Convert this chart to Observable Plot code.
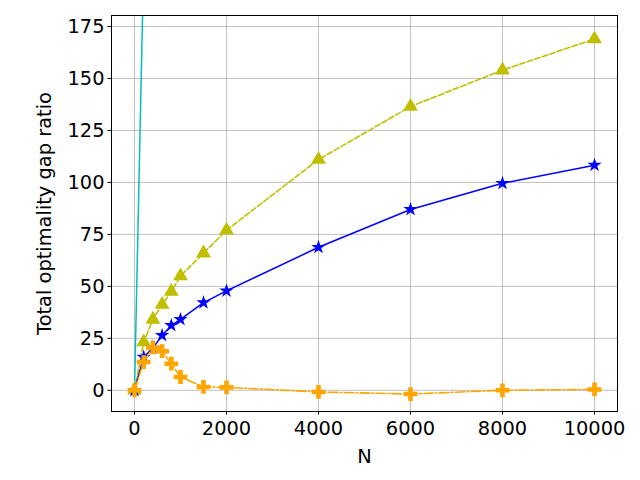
<!DOCTYPE html>
<html>
<head>
<meta charset="utf-8">
<script src="https://cdn.jsdelivr.net/npm/d3@7"></script>
<script src="https://cdn.jsdelivr.net/npm/@observablehq/plot@0.6"></script>
<style>
  html, body { margin: 0; padding: 0; background: #fff; }
  svg { display: block; }
  svg text { font-family: "DejaVu Sans", sans-serif; font-size: 19.4px; fill: #000; }
</style>
</head>
<body>
<div id="chart"></div>
<script>
const N = [0, 200, 400, 600, 800, 1000, 1500, 2000, 4000, 6000, 8000, 10000];
const blueStar = [0, 16, 20.3, 26.4, 31.2, 34.1, 42.2, 47.8, 68.8, 87, 99.6, 108.3];
const yellowTri = [0, 23.2, 34.1, 41.3, 47.5, 55, 66, 77, 111, 136.5, 154, 169];
const orangePlus = [0, 13.6, 20.6, 18.8, 12.8, 6.4, 1.6, 1.4, -0.8, -1.8, 0, 0.4];
const cyanN = [0, 200, 400];
const cyanVals = [0, 206, 412];
const xTicks = [0, 2000, 4000, 6000, 8000, 10000];
const yTicks = [0, 25, 50, 75, 100, 125, 150, 175];

const rows = (ys) => N.map((n, i) => ({n, v: ys[i]}));
const blueData = rows(blueStar);
const yellowData = rows(yellowTri);
const orangeData = rows(orangePlus);
const cyanData = cyanN.map((n, i) => ({n, v: cyanVals[i]}));

const plusFilled = {
  draw(ctx, size) {
    const e = Math.sqrt(size * 9 / 5) / 2; // half extent
    const w = e / 3;
    ctx.moveTo(-w, -e); ctx.lineTo(w, -e); ctx.lineTo(w, -w); ctx.lineTo(e, -w);
    ctx.lineTo(e, w); ctx.lineTo(w, w); ctx.lineTo(w, e); ctx.lineTo(-w, e);
    ctx.lineTo(-w, w); ctx.lineTo(-e, w); ctx.lineTo(-e, -w); ctx.lineTo(-w, -w);
    ctx.closePath();
  }
};

const chart = Plot.plot({
  width: 640,
  height: 480,
  marginLeft: 111,
  marginRight: 23,
  marginTop: 15,
  marginBottom: 69,
  style: {fontFamily: "DejaVu Sans", fontSize: "19.4px", color: "#000", background: "#fff"},
  x: {domain: [-500, 10500]},
  y: {domain: [-10.2, 180.3]},
  marks: [
    Plot.gridX(xTicks, {stroke: "#b0b0b0", strokeOpacity: 1, strokeWidth: 0.8}),
    Plot.gridY(yTicks, {stroke: "#b0b0b0", strokeOpacity: 1, strokeWidth: 0.8}),
    Plot.line(cyanData, {x: "n", y: "v", stroke: "#00bfbf", strokeWidth: 1.5, clip: true}),
    Plot.line(yellowData, {x: "n", y: "v", stroke: "#bfbf00", strokeWidth: 1.6, strokeDasharray: "5.5,2.4", clip: true}),
    Plot.dot(yellowData, {x: "n", y: "v", symbol: "triangle", fill: "#bfbf00", r: 5.5, clip: true}),
    Plot.line(blueData, {x: "n", y: "v", stroke: "#0000ff", strokeWidth: 1.5, clip: true}),
    Plot.dot(blueData, {x: "n", y: "v", symbol: "star", fill: "#0000ff", r: 4.5, clip: true}),
    Plot.line(orangeData, {x: "n", y: "v", stroke: "#ffa500", strokeWidth: 1.6, strokeDasharray: "9.6,2.4,1.5,2.4", clip: true}),
    Plot.dot(orangeData, {x: "n", y: "v", symbol: plusFilled, fill: "#ffa500", r: 5.8, clip: true}),
    Plot.frame({stroke: "#000", strokeWidth: 1}),
    Plot.axisX(xTicks, {tickSize: 3.5, tickPadding: 6, tickFormat: d3.format("d"), label: "N", labelAnchor: "center", labelArrow: "none", labelOffset: 51}),
    Plot.axisY(yTicks, {tickSize: 3.5, tickPadding: 3.5, tickFormat: d3.format("d"), label: "Total optimality gap ratio", labelAnchor: "center", labelArrow: "none", labelOffset: 74})
  ]
});
document.getElementById("chart").appendChild(chart);
</script>
</body>
</html>
